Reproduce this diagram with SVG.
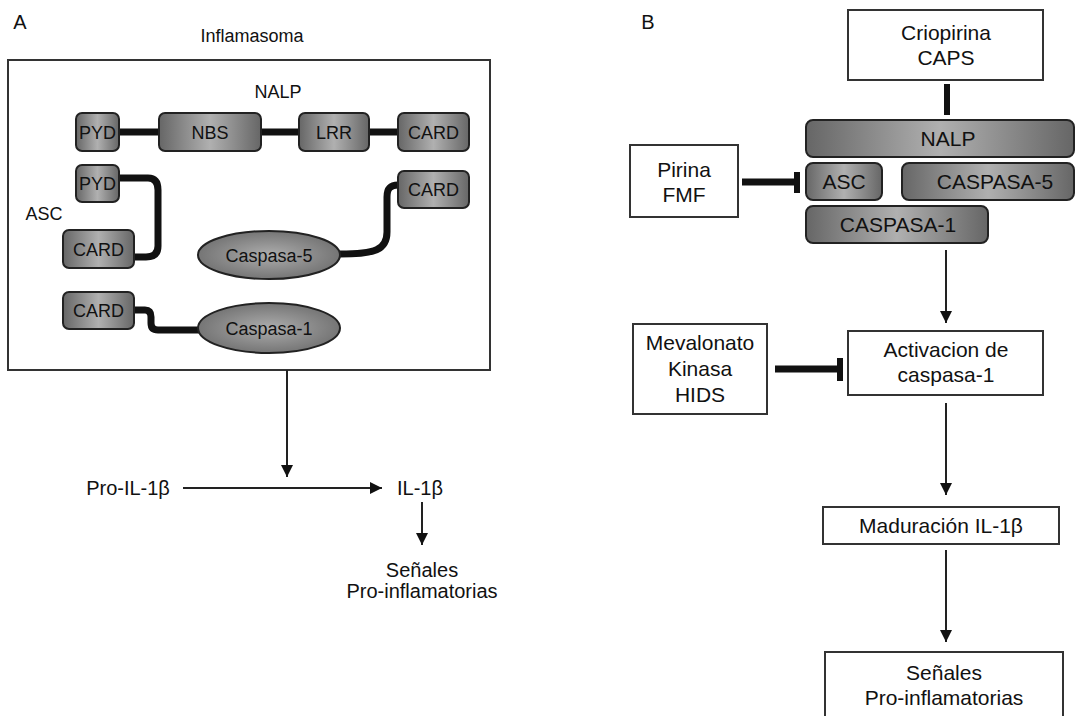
<svg xmlns="http://www.w3.org/2000/svg" width="1075" height="716" viewBox="0 0 1075 716">
<defs>
<linearGradient id="g" x1="0" y1="0" x2="1" y2="0">
<stop offset="0" stop-color="#666"/>
<stop offset="0.5" stop-color="#b0b0b0"/>
<stop offset="1" stop-color="#666"/>
</linearGradient>
<radialGradient id="rg" cx="0.5" cy="0.5" r="0.6">
<stop offset="0" stop-color="#adadad"/>
<stop offset="1" stop-color="#6a6a6a"/>
</radialGradient>
<marker id="arr" viewBox="0 0 10 10" refX="10" refY="5" markerWidth="12" markerHeight="12" markerUnits="userSpaceOnUse" orient="auto">
<path d="M0,0 L10,5 L0,10 z" fill="#111"/>
</marker>
</defs>
<style>
text{font-family:"Liberation Sans",Arial,sans-serif;fill:#111;text-anchor:middle}
.a{font-size:18px}
.b{font-size:21px}
.c{font-size:20px}
.box{fill:url(#g);stroke:#222;stroke-width:2}
.ell{fill:url(#rg);stroke:#222;stroke-width:2}
.frame{fill:#fff;stroke:#333;stroke-width:2}
.thick{fill:none;stroke:#111;stroke-width:7}
.thin{fill:none;stroke:#222;stroke-width:2;marker-end:url(#arr)}
.bar{fill:#111}
</style>
<rect width="1075" height="716" fill="#fff"/>
<text class="c" x="20" y="29">A</text>
<text class="c" x="648" y="29">B</text>
<text class="a" x="252" y="42">Inflamasoma</text>
<g id="inflamasoma-frame"><rect class="frame" x="8" y="60" width="482" height="310"/></g>
<text class="a" x="278" y="98">NALP</text>

<g id="connectors">
<path class="thick" d="M119,132 H159 M261,132 H299 M369,132 H398"/>
<path class="thick" d="M119,178 H148 Q158,178 158,190 V246 Q158,257 146,257 H134"/>
<path class="thick" d="M340,254 C375,254 387,250 387,232 V197 C387,189 390,185 398,185"/>
<path class="thick" d="M134,310 H145 Q151,310 151,317 V323 Q151,330 158,330 H200"/>
<path class="thin" d="M287,370 V477"/>
<path class="thin" d="M183,488 H382"/>
<path class="thin" d="M422,502 V545"/>
<path class="thick" d="M947,84 V115" style="stroke-width:6"/>
<path class="thick" d="M742,182 H797"/>
<rect class="bar" x="794" y="172" width="6" height="21"/>
<path class="thin" d="M946,250 V323"/>
<path class="thick" d="M775,369 H840"/>
<rect class="bar" x="837" y="358" width="6" height="23"/>
<path class="thin" d="M946,403 V495"/>
<path class="thin" d="M946,550 V642"/>
</g>

<g id="nalp-pyd"><rect class="box" x="76" y="113" width="43" height="38" rx="6"/><text class="a" x="97.5" y="139">PYD</text></g>
<g id="nalp-nbs"><rect class="box" x="159" y="113" width="102" height="38" rx="6"/><text class="a" x="210" y="139">NBS</text></g>
<g id="nalp-lrr"><rect class="box" x="299" y="113" width="70" height="38" rx="6"/><text class="a" x="334" y="139">LRR</text></g>
<g id="nalp-card"><rect class="box" x="398" y="113" width="71" height="38" rx="6"/><text class="a" x="433.5" y="139">CARD</text></g>

<g id="asc-label"><text class="a" x="44" y="220">ASC</text></g>
<g id="asc-pyd"><rect class="box" x="76" y="165" width="43" height="37" rx="6"/><text class="a" x="97.5" y="190">PYD</text></g>
<g id="asc-card"><rect class="box" x="63" y="230" width="71" height="38" rx="6"/><text class="a" x="98.5" y="256">CARD</text></g>
<g id="casp5-card"><rect class="box" x="398" y="171" width="71" height="37" rx="6"/><text class="a" x="433.5" y="196">CARD</text></g>
<g id="caspasa-5"><ellipse class="ell" cx="269" cy="255" rx="71" ry="24"/><text class="a" x="269" y="262">Caspasa-5</text></g>
<g id="casp1-card"><rect class="box" x="63" y="292" width="71" height="37" rx="6"/><text class="a" x="98.5" y="317">CARD</text></g>
<g id="caspasa-1"><ellipse class="ell" cx="269" cy="328" rx="71" ry="25"/><text class="a" x="269" y="335">Caspasa-1</text></g>

<g id="pro-il1b"><text class="c" x="128" y="495">Pro-IL-1β</text></g>
<g id="il1b"><text class="c" x="420" y="495">IL-1β</text></g>
<g id="senales-a"><text class="c" x="422" y="577">Señales</text><text class="c" x="422" y="598">Pro-inflamatorias</text></g>

<g id="criopirina"><rect class="frame" x="848" y="10" width="195" height="70"/><text class="b" x="946" y="40">Criopirina</text><text class="b" x="946" y="65">CAPS</text></g>
<g id="nalp-b"><rect class="box" x="806" y="120" width="268" height="37" rx="7"/><text class="b" x="948" y="146">NALP</text></g>
<g id="asc-b"><rect class="box" x="806" y="163" width="76" height="37" rx="7"/><text class="b" x="844" y="189">ASC</text></g>
<g id="caspasa5-b"><rect class="box" x="902" y="163" width="172" height="37" rx="7"/><text class="b" x="995" y="189">CASPASA-5</text></g>
<g id="caspasa1-b"><rect class="box" x="806" y="206" width="182" height="37" rx="7"/><text class="b" x="898" y="232">CASPASA-1</text></g>
<g id="pirina"><rect class="frame" x="630" y="145" width="108" height="72"/><text class="b" x="684" y="177">Pirina</text><text class="b" x="684" y="202">FMF</text></g>
<g id="activacion"><rect class="frame" x="848" y="331" width="195" height="64"/><text class="b" x="946" y="357">Activacion de</text><text class="b" x="946" y="382">caspasa-1</text></g>
<g id="mevalonato"><rect class="frame" x="633" y="324" width="134" height="90"/><text class="b" x="700" y="350">Mevalonato</text><text class="b" x="700" y="376">Kinasa</text><text class="b" x="700" y="402">HIDS</text></g>
<g id="maduracion"><rect class="frame" x="823" y="507" width="236" height="37"/><text class="b" x="941" y="533">Maduración IL-1β</text></g>
<g id="senales-b"><rect class="frame" x="825" y="652" width="238" height="70"/><text class="b" x="944" y="680">Señales</text><text class="b" x="944" y="705">Pro-inflamatorias</text></g>
</svg>
